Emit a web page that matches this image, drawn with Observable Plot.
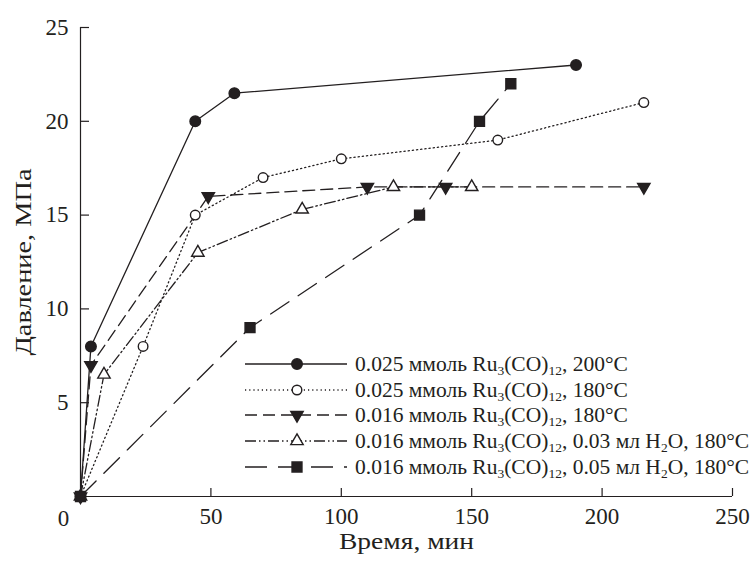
<!DOCTYPE html>
<html>
<head>
<meta charset="utf-8">
<script src="https://cdn.jsdelivr.net/npm/d3@7"></script>
<script src="https://cdn.jsdelivr.net/npm/@observablehq/plot@0.6"></script>
<style>
  html, body { margin: 0; padding: 0; background: #fff; }
  #wrap { position: relative; width: 755px; height: 562px; font-family: "Liberation Serif", "Times New Roman", Times, serif; color: #231f20; }
  #wrap svg, #wrap svg text { font-family: "Liberation Serif", "Times New Roman", Times, serif !important; }
  #legend { position: absolute; left: 245px; top: 351px; }
  .row { display: flex; align-items: center; height: 25.8px; white-space: nowrap; }
  .row svg { flex: none; margin-right: 8px; }
  .row span { font-size: 21.5px; line-height: 22px; }
  .row sub { font-size: 13.5px; vertical-align: -4px; line-height: 0; }
</style>
</head>
<body>
<div id="wrap"><div id="legend"></div></div>
<script>
// ---- data ----
const seriesNames = [
  "0.025 ммоль Ru<sub>3</sub>(CO)<sub>12</sub>, 200°C",
  "0.025 ммоль Ru<sub>3</sub>(CO)<sub>12</sub>, 180°C",
  "0.016 ммоль Ru<sub>3</sub>(CO)<sub>12</sub>, 180°C",
  "0.016 ммоль Ru<sub>3</sub>(CO)<sub>12</sub>, 0.03 мл H<sub>2</sub>O, 180°C",
  "0.016 ммоль Ru<sub>3</sub>(CO)<sub>12</sub>, 0.05 мл H<sub>2</sub>O, 180°C"
];
const time1 = [0, 4, 44, 59, 190];
const pres1 = [0, 8, 20, 21.5, 23];
const time2 = [0, 24, 44, 70, 100, 160, 216];
const pres2 = [0, 8, 15, 17, 18, 19, 21];
const time3 = [0, 4, 49, 110, 140, 216];
const pres3 = [0, 7, 16, 16.5, 16.5, 16.5];
const time4 = [0, 9, 45, 85, 120, 150];
const pres4 = [0, 6.5, 13, 15.3, 16.5, 16.5];
const time5 = [0, 65, 130, 153, 165];
const pres5 = [0, 9, 15, 20, 22];
const xTicks = [50, 100, 150, 200, 250];
const yTicks = [5, 10, 15, 20, 25];
const xLabel = "Время, мин";
const yLabel = "Давление, МПа";

// ---- styles ----
const INK = "#231f20";
const sqrt3 = Math.sqrt(3);
const triangleDown = {
  draw(ctx, size) {
    const y = -Math.sqrt(size / (sqrt3 * 3));
    ctx.moveTo(0, -y * 2);
    ctx.lineTo(-sqrt3 * y, y);
    ctx.lineTo(sqrt3 * y, y);
    ctx.closePath();
  }
};
const styles = [
  {dash: null, symbol: "circle", fill: INK, r: 5.3},
  {dash: "1.2,3", symbol: "circle", fill: "white", r: 4.8},
  {dash: "12,6", symbol: triangleDown, fill: INK, r: 4.6},
  {dash: "11,3,1.5,3,1.5,3", symbol: "triangle", fill: "white", r: 4.6},
  {dash: "22,11", symbol: "square", fill: INK, r: 5.6}
];
const times = [time1, time2, time3, time4, time5];
const pres = [pres1, pres2, pres3, pres4, pres5];
const tables = times.map((t, i) => t.map((x, j) => ({x, y: pres[i][j]})));

const W = 755, H = 562;
const mL = 80, mR = 23, mT = 27, mB = 66;
const fw = W - mL - mR, fh = H - mT - mB;
const FONT = 23;

const marks = [
  Plot.ruleY([0], {stroke: INK, strokeWidth: 1.2}),
  Plot.ruleX([0], {stroke: INK, strokeWidth: 1.2}),
  Plot.tickX(xTicks, {x: d => d, insetTop: fh - 8, stroke: INK, strokeWidth: 1.2}),
  Plot.tickY(yTicks, {y: d => d, insetRight: fw - 9, stroke: INK, strokeWidth: 1.2}),
  Plot.axisX({ticks: xTicks, tickSize: 0, tickPadding: 11, fontSize: FONT, label: null}),
  Plot.axisY({ticks: yTicks, tickSize: 0, tickPadding: 12, fontSize: FONT, label: null}),
  Plot.text(["0"], {x: 0, y: 0, dx: -17, dy: 22, fontSize: FONT, fill: INK}),
  Plot.text([xLabel], {frameAnchor: "bottom", dy: 52, fontSize: FONT, fill: INK}),
  Plot.text([yLabel], {frameAnchor: "left", textAnchor: "middle", rotate: -90, dx: -57, fontSize: FONT, fill: INK})
];
tables.forEach((tb, i) => {
  const s = styles[i];
  marks.push(Plot.line(tb, {x: "x", y: "y", stroke: INK, strokeWidth: 1.3, strokeDasharray: s.dash}));
});
tables.forEach((tb, i) => {
  const s = styles[i];
  marks.push(Plot.dot(tb, {x: "x", y: "y", symbol: () => s.symbol, r: s.r, fill: s.fill, stroke: INK, strokeWidth: 1.4}));
});

const chart = Plot.plot({
  width: W, height: H,
  marginLeft: mL, marginRight: mR, marginTop: mT, marginBottom: mB,
  style: "font-family: 'Liberation Serif', 'Times New Roman', Times, serif; color: #231f20; background: white; overflow: visible;",
  x: {domain: [0, 250]},
  y: {domain: [0, 25]},
  symbol: {type: "identity"},
  marks
});
document.getElementById("wrap").prepend(chart);

// the reference's Cyrillic face is wider than Times: stretch the axis titles to its widths
d3.select(chart).selectAll("text")
  .filter(function() { return this.textContent === xLabel; })
  .attr("textLength", 135).attr("lengthAdjust", "spacingAndGlyphs");
d3.select(chart).selectAll("text")
  .filter(function() { return this.textContent === yLabel; })
  .attr("textLength", 187).attr("lengthAdjust", "spacingAndGlyphs");

// ---- legend (HTML overlay with sample line + marker) ----
const legend = document.getElementById("legend");
styles.forEach((s, i) => {
  const row = document.createElement("div");
  row.className = "row";
  const svg = d3.create("svg").attr("width", 102).attr("height", 20);
  svg.append("line").attr("x1", 0).attr("x2", 102).attr("y1", 10).attr("y2", 10)
    .attr("stroke", INK).attr("stroke-width", 1.3).attr("stroke-dasharray", s.dash);
  const sym = typeof s.symbol === "string"
    ? {circle: d3.symbolCircle, triangle: d3.symbolTriangle, square: d3.symbolSquare}[s.symbol]
    : s.symbol;
  svg.append("path").attr("transform", "translate(52,10)")
    .attr("d", d3.symbol(sym, s.r * s.r * Math.PI)())
    .attr("fill", s.fill).attr("stroke", INK).attr("stroke-width", 1.4);
  row.appendChild(svg.node());
  const span = document.createElement("span");
  span.innerHTML = seriesNames[i];
  row.appendChild(span);
  legend.appendChild(row);
});
</script>
</body>
</html>
